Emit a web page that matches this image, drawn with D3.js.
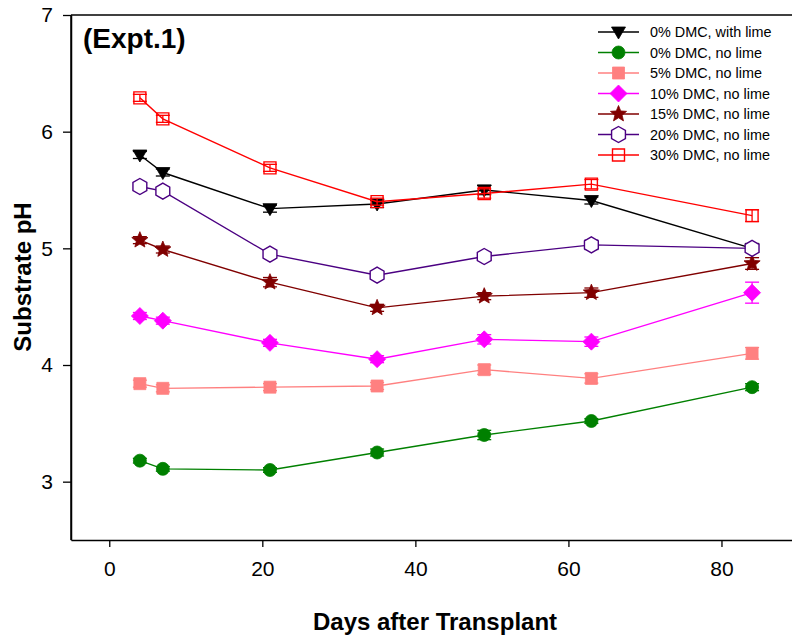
<!DOCTYPE html>
<html>
<head>
<meta charset="utf-8">
<script src="https://cdn.jsdelivr.net/npm/d3@7"></script>
<style>
  html, body { margin: 0; padding: 0; background: #fff; }
  svg text { font-family: "Liberation Sans", Arial, sans-serif; fill: #000; }
</style>
</head>
<body>
<svg id="chart" width="792" height="641"></svg>
<script>
// sampling days
var days = [4, 7, 21, 35, 49, 63, 84];

// mean substrate pH per treatment
var ph0Lime   = [5.80, 5.65, 5.34, 5.38, 5.50, 5.41, 5.00];
var ph0NoLime = [3.18, 3.11, 3.10, 3.25, 3.40, 3.52, 3.81];
var ph5       = [3.84, 3.80, 3.81, 3.82, 3.96, 3.885, 4.10];
var ph10      = [4.42, 4.38, 4.19, 4.05, 4.22, 4.20, 4.62];
var ph15      = [5.07, 4.99, 4.71, 4.49, 4.59, 4.62, 4.87];
var ph20      = [5.53, 5.49, 4.95, 4.77, 4.93, 5.03, 5.00];
var ph30      = [6.29, 6.11, 5.69, 5.40, 5.47, 5.55, 5.28];

// standard errors
var se0Lime   = [0.03, 0.03, 0.03, 0.03, 0.04, 0.03, 0.03];
var se0NoLime = [0.02, 0.02, 0.02, 0.03, 0.04, 0.02, 0.03];
var se5       = [0.03, 0.03, 0.03, 0.03, 0.04, 0.04, 0.05];
var se10      = [0.03, 0.03, 0.03, 0.03, 0.04, 0.04, 0.09];
var se15      = [0.03, 0.03, 0.04, 0.03, 0.03, 0.04, 0.05];
var se20      = [0.03, 0.03, 0.03, 0.03, 0.03, 0.04, 0.03];
var se30      = [0.03, 0.03, 0.03, 0.03, 0.04, 0.04, 0.05];

var seriesNames = ["0% DMC, with lime", "0% DMC, no lime", "5% DMC, no lime",
                   "10% DMC, no lime", "15% DMC, no lime", "20% DMC, no lime", "30% DMC, no lime"];

var xTicks = [0, 20, 40, 60, 80];
var yTicks = [3, 4, 5, 6, 7];

// series table built from the arrays above
var styles = [
  {color: "#000000", shape: "triDown", fill: "#000000"},
  {color: "#008000", shape: "circle",  fill: "#008000"},
  {color: "#ff8080", shape: "square",  fill: "#ff8080"},
  {color: "#ff00ff", shape: "diamond", fill: "#ff00ff"},
  {color: "#800000", shape: "star",    fill: "#800000"},
  {color: "#4b0082", shape: "hexagon", fill: "#ffffff"},
  {color: "#ff0000", shape: "square",  fill: "none"}
];
var means = [ph0Lime, ph0NoLime, ph5, ph10, ph15, ph20, ph30];
var errs  = [se0Lime, se0NoLime, se5, se10, se15, se20, se30];

var series = seriesNames.map(function(name, i) {
  return {
    name: name,
    style: styles[i],
    points: days.map(function(d, j) { return {x: d, y: means[i][j], e: errs[i][j]}; })
  };
});

var svg = d3.select("#chart");

var x = d3.scaleLinear().domain([-5, 90]).range([71, 798]);
var y = d3.scaleLinear().domain([2.5, 7]).range([540, 15]);

// marker shapes (SigmaPlot style)
function markerPath(shape) {
  var p = d3.path();
  if (shape === "triDown") {
    p.moveTo(-7, -5); p.lineTo(7, -5); p.lineTo(0, 7); p.closePath();
  } else if (shape === "circle") {
    p.arc(0, 0, 6.5, 0, 2 * Math.PI);
  } else if (shape === "square") {
    p.rect(-6, -6, 12, 12);
  } else if (shape === "diamond") {
    p.moveTo(0, -8.5); p.lineTo(8.5, 0); p.lineTo(0, 8.5); p.lineTo(-8.5, 0); p.closePath();
  } else if (shape === "star") {
    for (var k = 0; k < 10; k++) {
      var r = k % 2 === 0 ? 8.5 : 3.8;
      var a = -Math.PI / 2 + k * Math.PI / 5;
      if (k === 0) p.moveTo(r * Math.cos(a), r * Math.sin(a));
      else p.lineTo(r * Math.cos(a), r * Math.sin(a));
    }
    p.closePath();
  } else if (shape === "hexagon") {
    for (var h = 0; h < 6; h++) {
      var b = -Math.PI / 2 + h * Math.PI / 3;
      if (h === 0) p.moveTo(8 * Math.cos(b), 8 * Math.sin(b));
      else p.lineTo(8 * Math.cos(b), 8 * Math.sin(b));
    }
    p.closePath();
  }
  return p.toString();
}

// axes frame
var frame = svg.append("g").attr("stroke", "#000").attr("stroke-width", 1.5);
frame.append("line").attr("x1", 71).attr("x2", 71).attr("y1", 15).attr("y2", 540);
frame.append("line").attr("x1", 71).attr("x2", 792).attr("y1", 15).attr("y2", 15);

var xAxis = svg.append("g")
  .attr("transform", "translate(0,540)")
  .call(d3.axisBottom(x).tickValues(xTicks).tickFormat(d3.format("d"))
    .tickSizeInner(7).tickSizeOuter(0).tickPadding(14));
var yAxis = svg.append("g")
  .attr("transform", "translate(71,0)")
  .call(d3.axisLeft(y).tickValues(yTicks).tickFormat(d3.format("d"))
    .tickSizeInner(8).tickSizeOuter(0).tickPadding(10));

[xAxis, yAxis].forEach(function(ax) {
  ax.selectAll("path.domain").attr("stroke", "#000").attr("stroke-width", 1.5);
  ax.selectAll(".tick line").attr("stroke", "#000").attr("stroke-width", 1.3);
  ax.selectAll(".tick text")
    .style("font-family", "'Liberation Sans', Arial, sans-serif")
    .style("font-size", "21px").attr("fill", "#000");
});
xAxis.selectAll(".tick text").attr("dy", "0.71em");

// axis titles
svg.append("text")
  .attr("x", 435).attr("y", 630)
  .attr("text-anchor", "middle")
  .style("font-size", "24px").style("font-weight", "bold")
  .text("Days after Transplant");

svg.append("text")
  .attr("transform", "translate(31,277) rotate(-90)")
  .attr("text-anchor", "middle")
  .style("font-size", "24px").style("font-weight", "bold")
  .text("Substrate pH");

svg.append("text")
  .attr("x", 83).attr("y", 48)
  .style("font-size", "28px").style("font-weight", "bold")
  .text("(Expt.1)");

// data
var line = d3.line().x(function(d) { return x(d.x); }).y(function(d) { return y(d.y); });

var g = svg.selectAll("g.series").data(series).enter().append("g").attr("class", "series");

g.append("path")
  .attr("d", function(s) { return line(s.points); })
  .attr("fill", "none")
  .attr("stroke", function(s) { return s.style.color; })
  .attr("stroke-width", 1.4);

g.each(function(s) {
  var eb = d3.select(this).append("g")
    .attr("stroke", s.style.color).attr("stroke-width", 1.3);
  s.points.forEach(function(p) {
    var cx = x(p.x), top = y(p.y + p.e), bot = y(p.y - p.e);
    eb.append("line").attr("x1", cx).attr("x2", cx).attr("y1", top).attr("y2", bot);
    eb.append("line").attr("x1", cx - 7).attr("x2", cx + 7).attr("y1", top).attr("y2", top);
    eb.append("line").attr("x1", cx - 7).attr("x2", cx + 7).attr("y1", bot).attr("y2", bot);
  });
});

g.each(function(s) {
  d3.select(this).selectAll("path.mark").data(s.points).enter().append("path")
    .attr("class", "mark")
    .attr("transform", function(p) { return "translate(" + x(p.x) + "," + y(p.y) + ")"; })
    .attr("d", markerPath(s.style.shape))
    .attr("fill", s.style.fill)
    .attr("stroke", s.style.color)
    .attr("stroke-width", s.style.fill === "none" || s.style.fill === "#ffffff" ? 1.4 : 0.8);
});

// legend
var legend = svg.append("g");
var lg = legend.selectAll("g").data(series).enter().append("g")
  .attr("transform", function(s, i) { return "translate(0," + (32 + i * 20.5) + ")"; });
lg.append("line")
  .attr("x1", 598).attr("x2", 639).attr("y1", 0).attr("y2", 0)
  .attr("stroke", function(s) { return s.style.color; })
  .attr("stroke-width", 1.4);
lg.append("path")
  .attr("transform", "translate(618.5,0)")
  .attr("d", function(s) { return markerPath(s.style.shape); })
  .attr("fill", function(s) { return s.style.fill; })
  .attr("stroke", function(s) { return s.style.color; })
  .attr("stroke-width", function(s) { return s.style.fill === "none" || s.style.fill === "#ffffff" ? 1.4 : 0.8; });
lg.append("text")
  .attr("x", 650).attr("y", 0).attr("dy", "0.35em")
  .style("font-size", "14.4px")
  .text(function(s) { return s.name; });
</script>
</body>
</html>
